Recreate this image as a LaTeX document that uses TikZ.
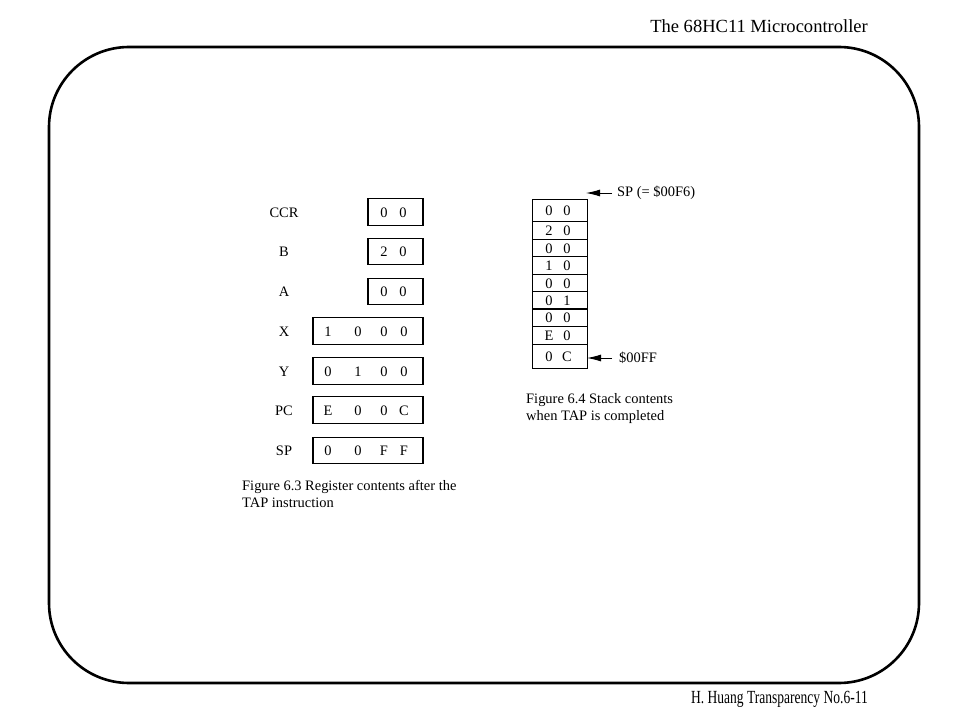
\documentclass[tikz,border=0pt]{standalone}
\usepackage{fontspec}
\setmainfont{Liberation Serif}
\usetikzlibrary{arrows.meta}
\begin{document}
\begin{tikzpicture}[x=1bp,y=-1bp,
  txt/.style={font=\fontsize{14.5}{17.5}\selectfont, inner sep=0pt},
  big/.style={font=\fontsize{18.6}{22}\selectfont, inner sep=0pt},
  regbox/.style={draw, line width=1.1bp, minimum height=26.5bp, inner sep=0pt},
  smallreg/.style={regbox, minimum width=55bp},
  widereg/.style={regbox, minimum width=110bp},
  ptr/.style={line width=0.9bp, -{Latex[length=14bp,width=7bp]}}]
\useasboundingbox (0,0) rectangle (960,720);
% frame
\draw[line width=2.6bp, rounded corners=80bp] (49,47) rectangle (919,683);
% header / footer
\node[big, anchor=base east] (hdr) at (868,33) {The 68HC11 Microcontroller};
\node[big, anchor=base east] (ftr) at (868,703) {\scalebox{0.73}[1]{H. Huang Transparency No.6-11}};
% register labels
\node[txt, anchor=base] (lccr) at (284,217) {CCR};
\node[txt, anchor=base] (lb) at (284,256.5) {B};
\node[txt, anchor=base] (la) at (284,296.5) {A};
\node[txt, anchor=base] (lx) at (284,336) {X};
\node[txt, anchor=base] (ly) at (284,376) {Y};
\node[txt, anchor=base] (lpc) at (284,415) {PC};
\node[txt, anchor=base] (lsp) at (284,455.5) {SP};
% register boxes
\node[smallreg] (rccr) at (395.5,212) {};
\node[smallreg] (rb) at (395.5,251.5) {};
\node[smallreg] (ra) at (395.5,291.5) {};
\node[widereg] (rx) at (368,331) {};
\node[widereg] (ry) at (368,371) {};
\node[widereg] (rpc) at (368,410) {};
\node[widereg] (rsp) at (368,450.5) {};
% register contents
\foreach \n/\yy/\da/\db in {ccr/217/0/0, b/256.5/2/0, a/296.5/0/0}{
  \node[txt, anchor=base] (\n1) at (384,\yy) {\da};
  \node[txt, anchor=base] (\n2) at (403,\yy) {\db};
}
\foreach \n/\yy/\da/\db/\dc/\dd in {x/336/1/0/0/0, y/376/0/1/0/0, pc/415/E/0/0/C, sp/455.5/0/0/F/F}{
  \node[txt, anchor=base] (\n1) at (328,\yy) {\da};
  \node[txt, anchor=base] (\n2) at (358,\yy) {\db};
  \node[txt, anchor=base] (\n3) at (384,\yy) {\dc};
  \node[txt, anchor=base] (\n4) at (404,\yy) {\dd};
}
% caption 6.3 (base anchor = last line)
\node[txt, anchor=base west, align=left] (cap63) at (242,507.5) {Figure 6.3 Register contents after the\\TAP instruction};
% stack
\node[draw, line width=1.1bp, minimum width=54.5bp, minimum height=168.4bp, inner sep=0pt, anchor=north west] (stack) at (532,199.3) {};
\foreach \yy in {221.7,239.3,256.7,274.3,291.7,309,326.7,344.3}{
  \draw[line width=1.1bp] (stack.west |- 0,\yy) -- (stack.east |- 0,\yy);
}
\foreach \i/\yy/\da/\db in {1/210.5/0/0, 2/230.5/2/0, 3/248/0/0, 4/265.5/1/0, 5/283/0/0, 6/300.3/0/1, 7/317.8/0/0, 8/335.5/E/0, 9/356/0/C}{
  \node[txt, anchor=base] (s\i a) at (549,\yy+5) {\da};
  \node[txt, anchor=base] (s\i b) at (567,\yy+5) {\db};
}
% pointers
\node[txt, anchor=west] (sptxt) at (617,193) {SP (= \$00F6)};
\node[txt, anchor=west] (bottxt) at (619,358) {\$00FF};
\coordinate (sptail) at (612,193);
\coordinate (sptip) at (586,193);
\coordinate (bottail) at (612,358);
\coordinate (bottip) at (587,358);
\draw[ptr] (sptail) -- (sptip);
\draw[ptr] (bottail) -- (bottip);
% caption 6.4 (base anchor = last line)
\node[txt, anchor=base west, align=left] (cap64) at (526,420.5) {Figure 6.4 Stack contents\\when TAP is completed};
\end{tikzpicture}
\end{document}
